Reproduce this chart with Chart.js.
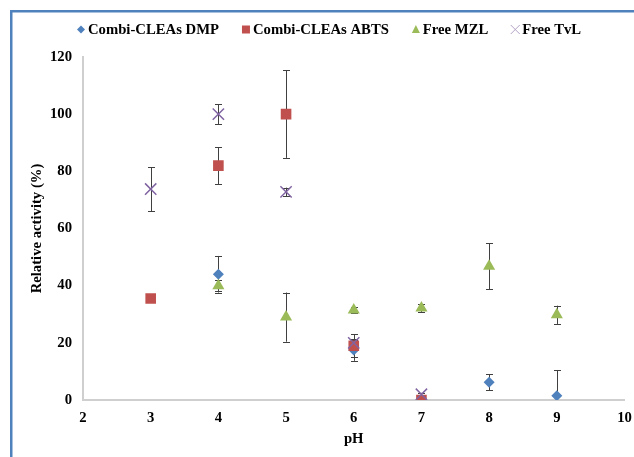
<!DOCTYPE html>
<html>
<head>
<meta charset="utf-8">
<script src="https://cdn.jsdelivr.net/npm/chart.js@4/dist/chart.umd.min.js"></script>
<style>
  html, body { margin: 0; padding: 0; background: #fff; overflow: hidden; }
  #wrap { position: relative; width: 634px; height: 457px; }
</style>
</head>
<body>
<div id="wrap"><canvas id="c" width="634" height="457"></canvas></div>
<script>
// ---- data ----
const seriesNames = ['Combi-CLEAs DMP', 'Combi-CLEAs ABTS', 'Free MZL', 'Free TvL'];

const dmpPH    = [4, 6, 8, 9];
const dmpVal   = [44, 17.5, 6.2, 1.5];
const dmpErrUp = [6.4, 3.8, 2.8, 9];
const dmpErrDn = [6.4, 3.8, 2.8, null];

const abtsPH    = [3, 4, 5, 6, 7];
const abtsVal   = [35.5, 82, 100, 19, 0];
const abtsErrUp = [0, 6.5, 15.3, 4, 0];
const abtsErrDn = [0, 6.5, 15.3, 4, 0];

const mzlPH    = [4, 5, 6, 7, 8, 9];
const mzlVal   = [40, 29, 31.5, 32.2, 46.8, 29.8];
const mzlErrUp = [2, 8.6, 1, 1.5, 8, 3.2];
const mzlErrDn = [2, 8.6, 1, 1.5, 8, 3.2];

const tvlPH    = [3, 4, 5, 6, 7];
const tvlVal   = [73.8, 100, 72.8, 20, 2];
const tvlErrUp = [7.7, 3.5, 1.5, 1, 0.5];
const tvlErrDn = [7.7, 3.5, 1.5, 1, 0.5];

const xMin = 2, xMax = 10, xStep = 1;
const yMin = 0, yMax = 120, yStep = 20;
const xTitle = 'pH';
const yTitle = 'Relative activity (%)';

function pts(xs, ys) { return xs.map((v, i) => ({ x: v, y: ys[i] })); }

const FONT = '"Liberation Serif", "Times New Roman", serif';

const errorBars = {
  id: 'errorBars',
  beforeDatasetsDraw(chart) {
    const { ctx, scales: { x, y } } = chart;
    ctx.save();
    ctx.strokeStyle = '#404040';
    ctx.lineWidth = 1;
    chart.data.datasets.forEach(ds => {
      ds.data.forEach((p, j) => {
        const up = ds.errUp[j], dn = ds.errDn[j];
        const px = Math.round(x.getPixelForValue(p.x)) + 0.5;
        const py = y.getPixelForValue(p.y);
        const cap = 3.5;
        ctx.beginPath();
        if (up) {
          const t = y.getPixelForValue(p.y + up);
          ctx.moveTo(px, py); ctx.lineTo(px, t);
          ctx.moveTo(px - cap, Math.round(t) + 0.5); ctx.lineTo(px + cap, Math.round(t) + 0.5);
        }
        if (dn) {
          const b = y.getPixelForValue(p.y - dn);
          ctx.moveTo(px, py); ctx.lineTo(px, b);
          ctx.moveTo(px - cap, Math.round(b) + 0.5); ctx.lineTo(px + cap, Math.round(b) + 0.5);
        }
        ctx.stroke();
      });
    });
    ctx.restore();
  }
};

const frameAndLegend = {
  id: 'frameAndLegend',
  beforeDraw(chart) {
    const ctx = chart.ctx;
    ctx.save();
    ctx.fillStyle = '#fff';
    ctx.fillRect(0, 0, chart.width, chart.height);
    ctx.fillStyle = '#4F81BD';
    ctx.fillRect(10, 10, 2.5, chart.height);
    ctx.fillRect(10, 10, chart.width, 2.5);
    ctx.restore();
  },
  afterDraw(chart) {
    const ctx = chart.ctx;
    ctx.save();
    ctx.font = 'bold 14.7px ' + FONT;
    ctx.textBaseline = 'middle';
    ctx.textAlign = 'left';
    let x = 77;
    const cy = 29.5;
    chart.data.datasets.forEach(ds => {
      const cx = x + 4;
      ctx.fillStyle = ds.backgroundColor;
      ctx.strokeStyle = ds.legendColor || ds.borderColor;
      ctx.beginPath();
      if (ds.pointStyle === 'rectRot') {
        ctx.moveTo(cx - 4, cy); ctx.lineTo(cx, cy - 4); ctx.lineTo(cx + 4, cy); ctx.lineTo(cx, cy + 4);
        ctx.closePath(); ctx.fill();
      } else if (ds.pointStyle === 'rect') {
        ctx.rect(cx - 4, cy - 4, 8, 8); ctx.fill();
      } else if (ds.pointStyle === 'triangle') {
        ctx.moveTo(cx, cy - 4.5); ctx.lineTo(cx + 4, cy + 3.5); ctx.lineTo(cx - 4, cy + 3.5);
        ctx.closePath(); ctx.fill();
      } else {
        ctx.lineWidth = 1;
        ctx.moveTo(cx - 4.5, cy - 4.5); ctx.lineTo(cx + 4.5, cy + 4.5);
        ctx.moveTo(cx + 4.5, cy - 4.5); ctx.lineTo(cx - 4.5, cy + 4.5);
        ctx.stroke();
      }
      ctx.fillStyle = '#000';
      const tx = x + 11;
      ctx.fillText(ds.label, tx, cy + 0.5);
      x = tx + ctx.measureText(ds.label).width + 23;
    });
    ctx.restore();
  }
};

new Chart(document.getElementById('c'), {
  type: 'scatter',
  data: {
    datasets: [
      { label: seriesNames[0], data: pts(dmpPH, dmpVal), errUp: dmpErrUp, errDn: dmpErrDn,
        pointStyle: 'rectRot', radius: 5.5, backgroundColor: '#4F81BD', borderColor: '#4F81BD', borderWidth: 0, order: 4 },
      { label: seriesNames[1], data: pts(abtsPH, abtsVal), errUp: abtsErrUp, errDn: abtsErrDn,
        pointStyle: 'rect', radius: 7.5, backgroundColor: '#C0504D', borderColor: '#C0504D', borderWidth: 0, order: 3 },
      { label: seriesNames[2], data: pts(mzlPH, mzlVal), errUp: mzlErrUp, errDn: mzlErrDn,
        pointStyle: 'triangle', radius: 7, backgroundColor: '#9BBB59', borderColor: '#9BBB59', borderWidth: 0, order: 2 },
      { label: seriesNames[3], data: pts(tvlPH, tvlVal), errUp: tvlErrUp, errDn: tvlErrDn,
        pointStyle: 'crossRot', radius: 8, backgroundColor: '#8064A2', borderColor: '#8064A2', legendColor: '#B3A2C7', borderWidth: 1.5, order: 1 }
    ]
  },
  options: {
    responsive: false,
    animation: false,
    events: [],
    layout: { padding: { left: 0, right: 9, top: 57, bottom: 0 } },
    plugins: { legend: { display: false }, tooltip: { enabled: false } },
    elements: { point: { hoverRadius: 0 } },
    scales: {
      x: {
        type: 'linear', min: xMin, max: xMax,
        afterFit(s) { s.height = 57; s.paddingRight = 0; s.paddingLeft = 0; },
        ticks: { stepSize: xStep, padding: 9, color: '#000', font: { family: FONT, size: 14.7, weight: 'bold' } },
        grid: { display: false, drawTicks: false },
        border: { display: true, color: '#CFCFCF', width: 2 },
        title: { display: true, text: xTitle, color: '#000', padding: { top: 0, bottom: 9 },
                 font: { family: FONT, size: 14.7, weight: 'bold' } }
      },
      y: {
        type: 'linear', min: yMin, max: yMax,
        afterFit(s) { s.width = 83; s.paddingTop = 0; s.paddingBottom = 0; },
        ticks: { stepSize: yStep, padding: 11, color: '#000', font: { family: FONT, size: 14.7, weight: 'bold' } },
        grid: { display: false, drawTicks: false },
        border: { display: true, color: '#CFCFCF', width: 2 },
        title: { display: true, text: yTitle, color: '#000', padding: { top: 28, bottom: 0 },
                 font: { family: FONT, size: 14.7, weight: 'bold' } }
      }
    }
  },
  plugins: [frameAndLegend, errorBars]
});
</script>
</body>
</html>
